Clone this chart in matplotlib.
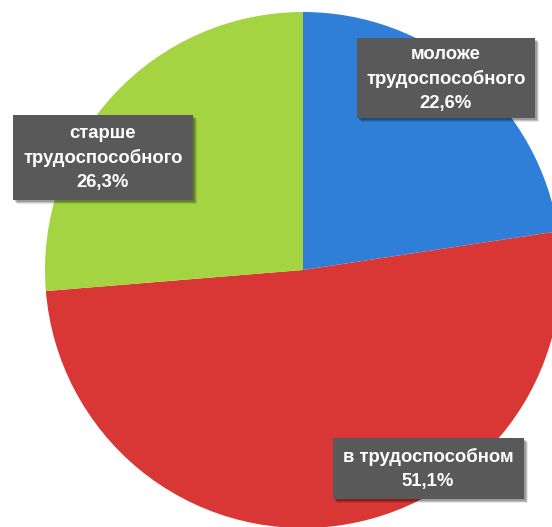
import matplotlib.pyplot as plt
from matplotlib.patches import Rectangle

# datos
categorias = ['моложе\nтрудоспособного', 'в трудоспособном', 'старше\nтрудоспособного']
valores = [22.6, 51.1, 26.3]
colores = ['#2F7ED8', '#D93735', '#A5D443']

# posiciones de las etiquetas (pixeles: centro x, centro y, ancho, alto)
cajas = [(446, 78, 178, 80), (428, 468, 191, 61), (103, 157, 180, 85)]

W, H = 552, 527
fig = plt.figure(figsize=(W/100, H/100), dpi=100)
ax = fig.add_axes([0, 0, 1, 1])

ax.pie(valores, colors=colores, startangle=90, counterclock=False,
       center=(303, H-270), radius=258, frame=True)
ax.set_xlim(0, W)
ax.set_ylim(0, H)
ax.set_aspect('equal')
ax.axis('off')

for cat, v, (cx, cy, w, h) in zip(categorias, valores, cajas):
    y = H - cy
    # sombra
    for d, a in [(4, 0.10), (3, 0.15), (2, 0.2)]:
        ax.add_patch(Rectangle((cx-w/2+d, y-h/2-d), w, h, color='black', alpha=a, lw=0, zorder=3))
    ax.add_patch(Rectangle((cx-w/2, y-h/2), w, h, color='#595959', lw=0, zorder=4))
    txt = cat + '\n' + ('%.1f' % v).replace('.', ',') + '%'
    ax.text(cx, y - 1, txt, ha='center', va='center', color='white', fontsize=13.3,
            fontweight='bold', family='Liberation Sans', linespacing=1.55, zorder=5)

fig.savefig('out.png', dpi=100)
